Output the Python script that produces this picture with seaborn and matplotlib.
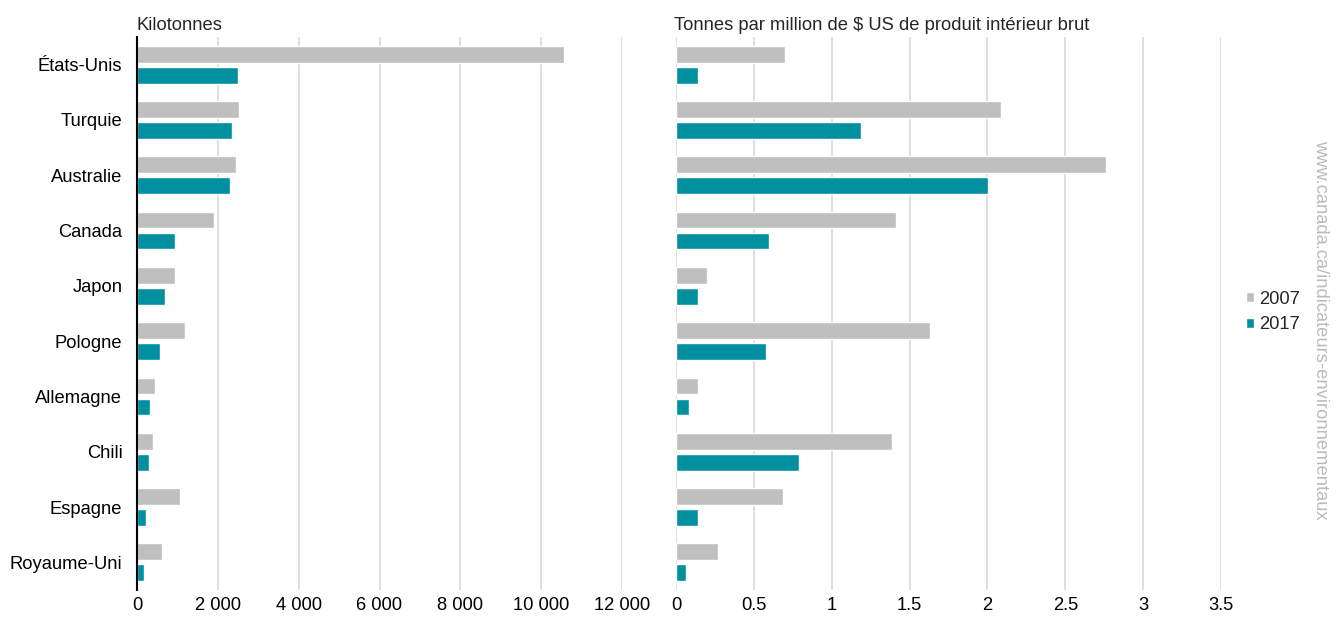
import pandas as pd
import matplotlib.pyplot as plt
import seaborn as sns
from matplotlib.ticker import FuncFormatter

# Données
pays = ["États-Unis", "Turquie", "Australie", "Canada", "Japon",
        "Pologne", "Allemagne", "Chili", "Espagne", "Royaume-Uni"]
kt_2007 = [10570, 2520, 2450, 1900, 930, 1180, 450, 400, 1060, 620]
kt_2017 = [2500, 2350, 2300, 940, 690, 570, 320, 300, 220, 170]
pib_2007 = [0.70, 2.09, 2.76, 1.41, 0.20, 1.63, 0.14, 1.39, 0.685, 0.267]
pib_2017 = [0.14, 1.19, 2.005, 0.595, 0.142, 0.58, 0.086, 0.79, 0.14, 0.066]
annees = ["2007", "2017"]

couleurs = {"2007": "#BFBFBF", "2017": "#0090A0"}
fs = 13.2

sns.set_theme(style="white")
plt.rcParams["font.family"] = ["Liberation Sans", "DejaVu Sans"]

df = pd.DataFrame({
    "Pays": pays * 2,
    "Année": [annees[0]] * len(pays) + [annees[1]] * len(pays),
    "Kilotonnes": kt_2007 + kt_2017,
    "Intensité": pib_2007 + pib_2017,
})

fig = plt.figure(figsize=(13.4, 6.21), dpi=100)
W, H = 1340, 621
ax1 = fig.add_axes([137 / W, 1 - 590 / H, (622 - 137) / W, (590 - 37) / H])
ax2 = fig.add_axes([676 / W, 1 - 590 / H, (1221 - 676) / W, (590 - 37) / H])

for ax, col in [(ax1, "Kilotonnes"), (ax2, "Intensité")]:
    sns.barplot(data=df, y="Pays", x=col, hue="Année", hue_order=annees,
                palette=couleurs, width=0.76, gap=0.2, ax=ax,
                legend=(ax is ax2), saturation=1)
    ax.set_xlabel("")
    ax.set_ylabel("")
    ax.grid(axis="x", color="#D9D9D9", linewidth=1.2)
    ax.set_axisbelow(True)
    for s in ax.spines.values():
        s.set_visible(False)
    ax.tick_params(axis="both", length=0, labelsize=fs, colors="#000000")

ax1.set_xlim(0, 12000)
ax1.set_xticks(range(0, 12001, 2000))
ax1.xaxis.set_major_formatter(FuncFormatter(lambda v, p: f"{int(v):,}".replace(",", " ")))
ax1.spines["left"].set_visible(True)
ax1.spines["left"].set_color("black")
ax1.spines["left"].set_linewidth(1.5)
ax1.tick_params(axis="y", pad=10.5)
ax1.tick_params(axis="x", pad=5)
ax2.tick_params(axis="x", pad=5)

ax2.set_xlim(0, 3.5)
ax2.set_xticks([0, 0.5, 1, 1.5, 2, 2.5, 3, 3.5])
ax2.set_xticklabels(["0", "0.5", "1", "1.5", "2", "2.5", "3", "3.5"])
ax2.set_yticklabels([])

ax1.set_title("Kilotonnes", loc="left", fontsize=fs, pad=5)
ax2.set_title("Tonnes par million de $ US de produit intérieur brut",
              loc="left", fontsize=fs, pad=5, x=-0.004)

handles, labels = ax2.get_legend_handles_labels()
ax2.get_legend().remove()
fig.legend(handles, labels, loc="center left", bbox_to_anchor=(1229 / W, 1 - 312 / H),
           frameon=False, fontsize=fs, handlelength=0.45, handleheight=0.45,
           handletextpad=0.3, labelspacing=0.45)

fig.text(1321 / W, 1 - 330 / H, "www.canada.ca/indicateurs-environnementaux",
         rotation=-90, ha="center", va="center", color="#BBBBBB", fontsize=fs)

fig.savefig("out.png", dpi=100)
